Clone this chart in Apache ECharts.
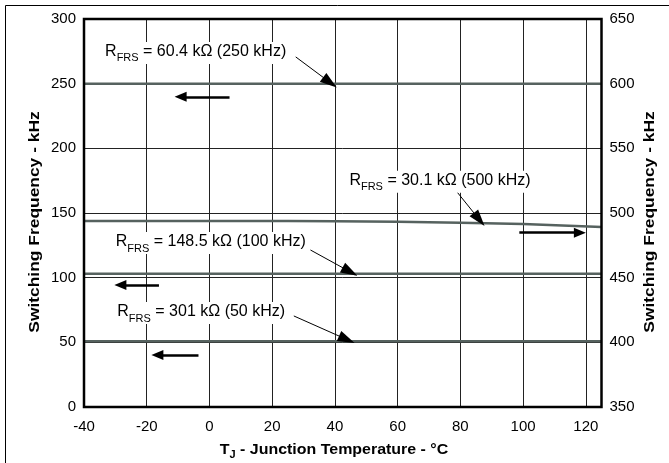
<!DOCTYPE html>
<html>
<head>
<meta charset="utf-8">
<script src="https://cdn.jsdelivr.net/npm/echarts@6/dist/echarts.min.js"></script>
<style>
html,body{margin:0;padding:0;background:#fff;}
#c{width:669px;height:463px;}
</style>
</head>
<body>
<div id="c"></div>
<script>
// ---- data ----
var temps = [-40, -20, 0, 20, 25, 40, 60, 80, 100, 125];
var f250 = [250, 250, 250, 250, 250, 250, 250, 250, 250, 250];
var f100 = [103, 103, 103, 103, 103, 103, 103, 103, 103, 103];
var f50 = [50.8, 50.8, 50.8, 50.8, 50.8, 50.8, 50.8, 50.8, 50.8, 50.8];
var f500 = [493.8, 493.8, 493.8, 493.8, 493.8, 493.6, 493.3, 492.5, 491.5, 489.2];
var xTicks = [-40, -20, 0, 20, 40, 60, 80, 100, 120];
var yLeftTicks = [0, 50, 100, 150, 200, 250, 300];
var yRightTicks = [350, 400, 450, 500, 550, 600, 650];

// annotations (data coordinates, left axis units)
var labels = [
  {val: '60.4 kΩ (250 kHz)', at: [-33.6, 273.8], from: [27.5, 270.7], to: [38.4, 251.0]},
  {val: '30.1 kΩ (500 kHz)', at: [44.3, 174.2], from: [77.9, 169.4], to: [86.0, 145.0]},
  {val: '148.5 kΩ (100 kHz)', at: [-30.2, 126.8], from: [32.2, 121.4], to: [44.8, 104.6]},
  {val: '301 kΩ (50 kHz)', at: [-29.7, 72.7], from: [26.9, 70.4], to: [43.8, 52.2]}
];
var axisArrows = [
  {from: [6.4, 239.8], to: [-9.2, 239.8]},
  {from: [98.8, 134.8], to: [118.1, 134.8]},
  {from: [-16.1, 94.4], to: [-28.4, 94.4]},
  {from: [-3.5, 40.2], to: [-16.6, 40.2]}
];

function zip(xs, ys){ return xs.map(function(x,i){return [x, ys[i]];}); }

var FONT = "'Liberation Sans',Arial,Helvetica,sans-serif";
var lineColor = '#56625f';

var chart = echarts.init(document.getElementById('c'), null, {renderer:'canvas'});

var leaderLines = labels.map(function(l){
  return [{coord: l.from, symbol:'none'}, {coord: l.to, symbol:'triangle', symbolSize:[11,17]}];
});
var hArrows = axisArrows.map(function(a){
  return [{coord: a.from, symbol:'none'}, {coord: a.to, symbol:'triangle', symbolSize:[10,12]}];
});

function lineSeries(name, data, yIdx, extra){
  var s = {
    name: name, type:'line', data: data, yAxisIndex: yIdx,
    showSymbol:false, symbol:'none', animation:false, z:3,
    lineStyle:{color: lineColor, width:2.5}
  };
  if (extra) for (var k in extra) s[k]=extra[k];
  return s;
}

var option = {
  animation:false,
  backgroundColor:'#fff',
  grid:{left:84, right:67.5, top:19, bottom:56, show:true, borderColor:'#000', borderWidth:2.5, backgroundColor:'transparent', z:5},
  xAxis:{
    type:'value', min:-40, max:125, interval:20,
    axisLine:{show:false}, axisTick:{show:false},
    splitLine:{show:true, lineStyle:{color:'#222', width:1}},
    axisLabel:{color:'#000', fontSize:15, fontFamily:FONT, margin:12, showMaxLabel:false,
      formatter:function(v){return xTicks.indexOf(v)>=0 ? String(v) : '';}}
  },
  yAxis:[{
    type:'value', min:0, max:300, interval:50, position:'left',
    axisLine:{show:false}, axisTick:{show:false},
    splitLine:{show:true, lineStyle:{color:'#222', width:1}},
    axisLabel:{color:'#000', fontSize:15, fontFamily:FONT, margin:8,
      formatter:function(v){return yLeftTicks.indexOf(v)>=0 ? String(v) : '';}}
  },{
    type:'value', min:350, max:650, interval:50, position:'right',
    axisLine:{show:false}, axisTick:{show:false}, splitLine:{show:false},
    axisLabel:{color:'#000', fontSize:15, fontFamily:FONT, margin:8,
      formatter:function(v){return yRightTicks.indexOf(v)>=0 ? String(v) : '';}}
  }],
  series:[
    lineSeries('250 kHz', zip(temps, f250), 0, {
      markLine:{silent:true, animation:false, label:{show:false},
        lineStyle:{color:'#000', width:1, type:'solid'}, data: leaderLines}
    }),
    lineSeries('100 kHz', zip(temps, f100), 0, {
      markLine:{silent:true, animation:false, label:{show:false},
        lineStyle:{color:'#000', width:2.5, type:'solid'}, data: hArrows}
    }),
    lineSeries('50 kHz', zip(temps, f50), 0),
    lineSeries('500 kHz', zip(temps, f500), 1)
  ]
};
chart.setOption(option);

var g = [];
// outer frame
g.push({type:'rect', shape:{x:5.5, y:5.5, width:700, height:500}, style:{fill:'none', stroke:'#000', lineWidth:1}, z:0, silent:true});
labels.forEach(function(l){
  var p = chart.convertToPixel({gridIndex:0}, l.at);
  g.push({type:'text', x:p[0], y:p[1], z:10, silent:true, style:{
    text:'{r|R}{s|FRS}{r| = ' + l.val + '}',
    verticalAlign:'middle', align:'left',
    backgroundColor:'#fff', padding:[0,1,0,1],
    rich:{
      r:{fontSize:16, fontFamily:FONT, fill:'#000', verticalAlign:'bottom', lineHeight:22, padding:[0,0,4,0]},
      s:{fontSize:11, fontFamily:FONT, fill:'#000', verticalAlign:'bottom', lineHeight:22, padding:[0,0,0,0]}
    }
  }});
});
var TF = "'Liberation Sans',Arial,Helvetica,sans-serif";
// x-axis title
g.push({type:'text', x:334, y:450, z:10, silent:true, scaleX:1.1, style:{
  text:'{b|T}{sb|J}{b| - Junction Temperature - °C}',
  align:'center', verticalAlign:'middle',
  rich:{
    b:{fontSize:14.5, fontWeight:'bold', fontFamily:TF, fill:'#000', verticalAlign:'bottom', lineHeight:20, padding:[0,0,3,0]},
    sb:{fontSize:10, fontWeight:'bold', fontFamily:TF, fill:'#000', verticalAlign:'bottom', lineHeight:20}
  }
}});
// y-axis titles
[35, 650].forEach(function(cx){
  g.push({type:'text', x:cx, y:222, rotation:Math.PI/2, scaleX:1.2, z:10, silent:true, style:{
    text:'Switching Frequency - kHz', align:'center', verticalAlign:'middle',
    fontSize:14.5, fontWeight:'bold', fontFamily:TF, fill:'#000'
  }});
});
chart.setOption({graphic:{elements:g}});
</script>
</body>
</html>
